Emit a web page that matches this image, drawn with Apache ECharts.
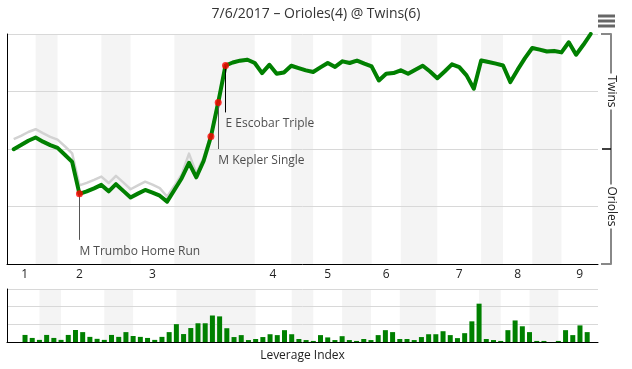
<!DOCTYPE html>
<html><head><meta charset="utf-8">
<script src="https://cdn.jsdelivr.net/npm/echarts@6/dist/echarts.min.js"></script>
<style>html,body{margin:0;padding:0;background:#fff}#c{width:632px;height:369px}</style>
</head><body><div id="c"></div>
<script>
const titleText = '7/6/2017 \u2013 Orioles(4) @ Twins(6)';
const homeTeam = 'Twins';
const awayTeam = 'Orioles';
// home (Twins) win probability after each event, event 0..79
const winProb = [
  0.499,0.517,0.536,0.550,0.532,0.517,0.505,0.475,0.444,0.305,
  0.316,0.329,0.344,0.316,0.347,0.318,0.289,0.306,0.322,0.310,
  0.297,0.271,0.322,0.373,0.440,0.377,0.448,0.554,0.702,0.863,
  0.876,0.884,0.888,0.874,0.830,0.866,0.827,0.833,0.862,0.852,
  0.842,0.835,0.855,0.874,0.857,0.881,0.874,0.884,0.871,0.859,
  0.798,0.827,0.830,0.842,0.827,0.845,0.862,0.837,0.808,0.837,
  0.868,0.856,0.820,0.762,0.885,0.878,0.871,0.863,0.791,0.845,
  0.895,0.939,0.932,0.924,0.926,0.920,0.964,0.910,0.953,1.000
];
// secondary (grey) win probability line
const winProbAlt = [
  0.543,0.557,0.574,0.586,0.569,0.553,0.541,0.512,0.481,0.342,
  0.353,0.366,0.380,0.352,0.383,0.355,0.325,0.342,0.358,0.345,
  0.330,0.293,0.340,0.390,0.480,0.395,0.462,0.563,0.708,0.867,
  0.880,0.888,0.892,0.878,0.834,0.870,0.831,0.837,0.866,0.856,
  0.846,0.839,0.859,0.878,0.861,0.885,0.878,0.888,0.875,0.863,
  0.802,0.831,0.834,0.846,0.831,0.849,0.866,0.841,0.812,0.841,
  0.872,0.860,0.824,0.766,0.889,0.882,0.875,0.867,0.795,0.849,
  0.899,0.943,0.936,0.928,0.930,0.924,0.968,0.914,0.957,1.000
];
// leverage index for events 1..79
const leverage = [
  0.40,0.23,0.12,0.40,0.23,0.12,0.40,0.68,0.56,0.29,
  0.18,0.12,0.40,0.29,0.56,0.34,0.29,0.23,0.12,0.29,
  0.56,1.01,0.45,0.79,1.06,1.06,1.50,1.45,0.78,0.28,
  0.39,0.11,0.17,0.28,0.44,0.39,0.67,0.44,0.17,0.11,
  0.06,0.39,0.26,0.11,0.33,0.11,0.06,0.17,0.11,0.39,
  0.67,0.56,0.17,0.17,0.11,0.28,0.44,0.44,0.61,0.39,
  0.22,0.50,1.17,2.17,0.17,0.11,0.06,0.67,1.22,0.89,
  0.56,0.06,0.06,0.00,0.06,0.67,0.39,0.94,0.56
];
// event index where each half inning starts (last = end of game axis)
const halfInningBounds = [0,3,6,12,16,22,33,38,41,45,49,53,58,64,67,71,75,80];
const inningLabels = ['1','2','3','4','5','6','7','8','9'];
const highlightIdx = [9,27,28,29];
const annIdx = [9,28,29];
const annText = ['M Trumbo Home Run','M Kepler Single','E Escobar Triple'];
const annEnd = [0.105,0.500,0.659];
const annLineColor = ['#555','#555','#000'];

const FONT = '"Open Sans", sans-serif';
const topHalfMid = [], bottomBands = [];
for (let i = 0; i + 1 < halfInningBounds.length; i++) {
  const a = halfInningBounds[i], b = halfInningBounds[i+1];
  if (i % 2 === 0) topHalfMid.push((a + b) / 2); else bottomBands.push([a, b]);
}
function bandRender(yMax) {
  return function (params, api) {
    const p0 = api.coord([api.value(0), yMax]);
    const p1 = api.coord([api.value(1), 0]);
    return { type: 'rect', shape: { x: p0[0], y: p0[1], width: p1[0]-p0[0], height: p1[1]-p0[1] },
             style: { fill: '#f4f4f4' } };
  };
}
const chart = echarts.init(document.getElementById('c'), null, {renderer:'canvas'});
chart.setOption({
  animation: false,
  backgroundColor: '#fff',
  textStyle: { fontFamily: FONT },
  title: { text: titleText, left: 'center', top: 7, padding: 0,
    textStyle: { fontFamily: FONT, fontSize: 14, fontWeight: 'normal', color: '#333' } },
  graphic: [
    { type:'rect', shape:{x:598, y:14.5, width:17, height:3}, style:{fill:'#666'} },
    { type:'rect', shape:{x:598, y:19.5, width:17, height:3}, style:{fill:'#666'} },
    { type:'rect', shape:{x:598, y:24.5, width:17, height:3}, style:{fill:'#666'} }
  ],
  grid: [
    { left: 7, right: 34, top: 34, height: 230, outerBoundsMode: 'none', containLabel: false },
    { left: 7, right: 34, top: 289, height: 53, outerBoundsMode: 'none', containLabel: false }
  ],
  xAxis: [
    { type:'value', gridIndex:0, min:-0.92, max:80,
      axisLine:{show:true, onZero:false, lineStyle:{color:'#000', width:1}},
      axisTick:{show:false}, splitLine:{show:false},
      axisLabel:{ show:true, customValues: topHalfMid, margin: 5, color:'#222', fontSize:12, fontFamily: FONT,
        formatter: function (v) { let best = 0; topHalfMid.forEach((m,i)=>{ if (Math.abs(m-v) < Math.abs(topHalfMid[best]-v)) best = i; }); return inningLabels[best]; } } },
    { type:'value', gridIndex:1, min:-1.5, max:80.5,
      axisLine:{show:true, onZero:false, lineStyle:{color:'#000', width:1}},
      axisTick:{show:false}, splitLine:{show:false}, axisLabel:{show:false},
      name:'Leverage Index', nameLocation:'middle', nameGap:8,
      nameTextStyle:{color:'#222', fontSize:12, fontFamily: FONT} }
  ],
  yAxis: [
    { type:'value', gridIndex:0, min:0, max:1, interval:0.25,
      axisLine:{show:true, onZero:false, lineStyle:{color:'#000', width:1}}, axisTick:{show:false}, axisLabel:{show:false},
      splitLine:{show:true, lineStyle:{color:'#d8d8d8', width:1}} },
    { type:'value', gridIndex:0, min:0, max:1, position:'right', offset:13,
      axisLine:{show:true, onZero:false, lineStyle:{color:'#888', width:2}},
      axisTick:{show:true, inside:true, length:10, customValues:[0,1], lineStyle:{color:'#888', width:2}},
      splitLine:{show:false},
      axisLabel:{show:true, customValues:[0.25,0.75], rotate:-90, margin:0, align:'center', verticalAlign:'middle',
        backgroundColor:'#fff', padding:[0,2], color:'#222', fontSize:12, fontFamily: FONT,
        formatter: function (v) { return v < 0.5 ? awayTeam : homeTeam; } } },
    { type:'value', gridIndex:0, min:0, max:1, position:'right', offset:13,
      axisLine:{show:false, onZero:false}, splitLine:{show:false}, axisLabel:{show:false},
      axisTick:{show:true, inside:true, length:9, customValues:[0.5], lineStyle:{color:'#000', width:1.5}} },
    { type:'value', gridIndex:1, min:0, max:3, interval:1,
      axisLine:{show:true, onZero:false, lineStyle:{color:'#000', width:1}}, axisTick:{show:false}, axisLabel:{show:false},
      splitLine:{show:true, lineStyle:{color:'#d8d8d8', width:1}} }
  ],
  series: [
    { type:'custom', xAxisIndex:0, yAxisIndex:0, z:-1, silent:true,
      renderItem: bandRender(1), data: bottomBands, encode:{x:[0,1]} },
    { type:'custom', xAxisIndex:1, yAxisIndex:3, z:-1, silent:true,
      renderItem: bandRender(3), data: bottomBands, encode:{x:[0,1]} },
    { type:'line', xAxisIndex:0, yAxisIndex:0, silent:true, symbol:'none', z:2,
      data: winProbAlt.map((v,i)=>[i,v]),
      lineStyle:{color:'#d2d2d2', width:2.5, join:'round'} },
    { type:'line', xAxisIndex:0, yAxisIndex:0, silent:true, symbol:'none', z:3,
      data: winProb.map((v,i)=>[i,v]),
      lineStyle:{color:'#008000', width:4, join:'round', cap:'round'},
      markLine:{ silent:true, symbol:['none','none'], label:{show:false}, animation:false,
        lineStyle:{width:1, type:'solid'},
        data: annIdx.map((k,j)=>[{coord:[k, winProb[k]], lineStyle:{color:annLineColor[j], width:1, type:'solid'}},
                                 {coord:[k, annEnd[j]]}]) } },
    { type:'scatter', xAxisIndex:0, yAxisIndex:0, silent:true, z:5, symbolSize:7,
      itemStyle:{color:'#ff0000'},
      data: highlightIdx.map(k=>[k, winProb[k]]) },
    { type:'scatter', xAxisIndex:0, yAxisIndex:0, silent:true, z:6, symbolSize:1,
      itemStyle:{color:'rgba(0,0,0,0)'},
      label:{show:true, position:'bottom', distance:5, align:'left', color:'#222', fontSize:12, fontFamily: FONT,
        formatter: p => annText[p.dataIndex]},
      data: annIdx.map((k,j)=>[k, annEnd[j]]) },
    { type:'bar', xAxisIndex:1, yAxisIndex:3, silent:true, barWidth:5,
      itemStyle:{color:'#008000'},
      data: leverage.map((v,i)=>[i+1, v]) }
  ]
});
</script>
</body></html>
